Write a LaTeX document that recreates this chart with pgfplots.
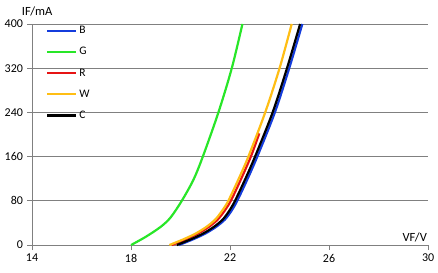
\documentclass[border=0pt]{standalone}
\usepackage{pgfplots}
\pgfplotsset{compat=1.18}
\usepackage{fontspec}
\setmainfont{Carlito}
\definecolor{cB}{RGB}{20,60,220}
\definecolor{cG}{RGB}{40,230,40}
\definecolor{cR}{RGB}{230,20,20}
\definecolor{cW}{RGB}{255,190,20}
\definecolor{gridgray}{RGB}{128,128,128}
\begin{document}
\begin{tikzpicture}
\begin{axis}[
  scale only axis, width=396pt, height=221pt,
  xmin=14, xmax=30, ymin=0, ymax=400,
  xtick={14,18,22,26,30}, ytick={0,80,160,240,320,400},
  axis x line*=bottom, axis y line*=left,
  axis line style={gridgray, line width=0.8pt},
  ymajorgrids, grid style={gridgray, line width=0.8pt},
  tick style={gridgray, line width=0.8pt},
  tick align=outside, major tick length=5pt,
  font=\fontsize{12}{14}\selectfont,
  tick label style={font=\fontsize{12}{14}\selectfont},
  /pgf/number format/assume math mode=true,
  xticklabel style={yshift=-0.5pt},
  yticklabel style={xshift=-0.5pt},
  xlabel={VF/V}, ylabel={IF/mA},
  xlabel style={at={(axis description cs:1,0.01)}, anchor=south east, inner sep=1pt, font=\fontsize{12.5}{14}\selectfont},
  ylabel style={at={(axis description cs:0.013,1.059)}, anchor=center, rotate=-90, inner sep=0pt, font=\fontsize{12.5}{14}\selectfont},
  legend style={at={(axis description cs:0.035,1.0)}, anchor=north west, draw=none, fill=none,
    font=\fontsize{11.5}{13}\selectfont, row sep=8.3pt, inner sep=0pt,
    /tikz/every even column/.append style={column sep=2pt}},
  legend cell align=left,
  legend image code/.code={\draw[#1, line width=2.2pt] (0pt,0pt) -- (29pt,0pt);},
  clip=false,
]
\addplot[cB, line width=2.2pt, smooth] coordinates {
(19.94,0) (20.54,11) (21.01,21) (21.44,33) (21.79,46) (22.06,62) (22.29,80) (22.69,118) (23.1,160) (23.81,240) (24.39,320) (24.92,400)};
\addlegendentry{B}
\addplot[cG, line width=2.2pt, smooth] coordinates {
(18,0) (18.6,15) (19.2,33) (19.6,50) (20.05,80) (20.52,118) (20.9,160) (21.53,240) (22.07,320) (22.5,400)};
\addlegendentry{G}
\addplot[cR, line width=2.2pt, smooth] coordinates {
(19.65,0) (20.25,11) (20.72,21) (21.15,33) (21.5,46) (21.78,62) (22.03,80) (22.43,118) (22.84,160) (23.18,202)};
\addlegendentry{R}
\addplot[cW, line width=2.2pt, smooth] coordinates {
(19.55,0) (20.15,11) (20.62,21) (21.05,33) (21.4,46) (21.68,62) (21.93,80) (22.33,118) (22.74,160) (23.42,240) (24.0,320) (24.49,400)};
\addlegendentry{W}
\addplot[black, line width=2.2pt, smooth] coordinates {
(19.85,0) (20.45,11) (20.92,21) (21.35,33) (21.7,46) (21.97,62) (22.2,80) (22.6,118) (23.01,160) (23.72,240) (24.3,320) (24.83,400)};
\addlegendentry{C}
\coordinate (bl) at (axis cs:12.707,-48.9);
\coordinate (tr) at (axis cs:30.40,443.4);
\end{axis}
\pgfresetboundingbox
\path[use as bounding box] (bl) rectangle (tr);
\end{tikzpicture}
\end{document}
